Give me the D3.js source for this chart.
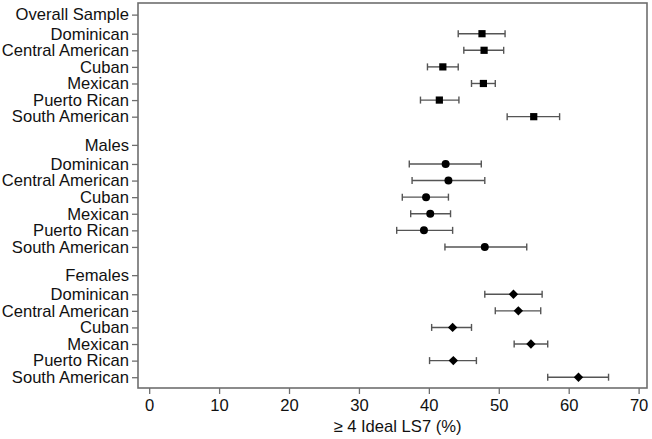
<!DOCTYPE html>
<html>
<head>
<meta charset="utf-8">
<script src="https://cdn.jsdelivr.net/npm/d3@7"></script>
<style>
  body { margin: 0; background: #fff; }
  svg { font-family: "Liberation Sans", Arial, sans-serif; }
</style>
</head>
<body>
<svg id="chart"></svg>
<script>
const groups = ['Overall Sample', 'Males', 'Females'];
const origins = ['Dominican', 'Central American', 'Cuban', 'Mexican', 'Puerto Rican', 'South American'];
const markers = ['square', 'circle', 'diamond'];

// point estimate, lower and upper 95% CI, per group
const overallEst = [47.6, 47.9, 42.0, 47.8, 41.5, 55.0];
const overallLo  = [44.2, 45.0, 39.8, 46.1, 38.8, 51.2];
const overallHi  = [50.9, 50.7, 44.2, 49.5, 44.3, 58.7];

const malesEst = [42.4, 42.8, 39.6, 40.2, 39.3, 48.0];
const malesLo  = [37.2, 37.6, 36.2, 37.4, 35.4, 42.3];
const malesHi  = [47.5, 48.0, 42.8, 43.1, 43.4, 54.0];

const femalesEst = [52.1, 52.8, 43.4, 54.6, 43.5, 61.4];
const femalesLo  = [48.0, 49.5, 40.4, 52.2, 40.1, 57.0];
const femalesHi  = [56.2, 56.0, 46.1, 57.0, 46.8, 65.7];

const xTicks = [0, 10, 20, 30, 40, 50, 60, 70];
const xTitle = '\u2265 4 Ideal LS7 (%)';

const width = 652, height = 439;
const margin = { top: 3, right: 5, bottom: 51, left: 138 };
const fontSize = '16.6px';

const svg = d3.select('#chart').attr('width', width).attr('height', height);

const estimates = [overallEst, malesEst, femalesEst];
const lows = [overallLo, malesLo, femalesLo];
const highs = [overallHi, malesHi, femalesHi];

// slot layout: header, then six rows; headers sit a bit apart
const headerGap = 1.15, groupGap = 1.7;
const rows = [];
const labels = [];
let slot = 0;
groups.forEach((g, gi) => {
    labels.push({ slot: slot, text: g });
    origins.forEach((o, oi) => {
        const s = slot + headerGap + oi;
        labels.push({ slot: s, text: o });
        rows.push({
            slot: s,
            group: gi,
            est: estimates[gi][oi],
            lo: lows[gi][oi],
            hi: highs[gi][oi],
        });
    });
    slot += headerGap + origins.length - 1 + groupGap;
});

const x = d3.scaleLinear()
    .domain([-1.6, 71.2])
    .range([margin.left, width - margin.right]);
const y = d3.scaleLinear()
    .domain([-0.7, 22.5])
    .range([margin.top, height - margin.bottom]);

const frameColor = '#6e6e6e';

// axes
const yAxis = svg.append('g')
    .attr('transform', `translate(${margin.left},0)`)
    .call(d3.axisLeft(y)
        .tickValues(labels.map(d => d.slot))
        .tickFormat((d, i) => labels[i].text)
        .tickSize(6)
        .tickPadding(3));

const xAxis = svg.append('g')
    .attr('transform', `translate(0,${height - margin.bottom})`)
    .call(d3.axisBottom(x)
        .tickValues(xTicks)
        .tickSize(6)
        .tickPadding(5));

[xAxis, yAxis].forEach(a => {
    a.select('.domain').remove();
    a.selectAll('.tick line').attr('stroke', frameColor).attr('stroke-width', 1.3);
    a.selectAll('.tick text')
        .attr('fill', '#111')
        .style('font-size', fontSize);
});

// frame
svg.append('rect')
    .attr('x', margin.left)
    .attr('y', margin.top)
    .attr('width', width - margin.right - margin.left)
    .attr('height', height - margin.bottom - margin.top)
    .attr('fill', 'none')
    .attr('stroke', frameColor)
    .attr('stroke-width', 1.6);

svg.append('text')
    .attr('x', (margin.left + width - margin.right) / 2 + 5)
    .attr('y', 432)
    .attr('text-anchor', 'middle')
    .attr('fill', '#111')
    .style('font-size', fontSize)
    .text(xTitle);

// error bars
const barColor = '#555';
const cap = 3.5;
const bars = svg.append('g').attr('stroke', barColor).attr('stroke-width', 1.4);

bars.selectAll('line.ci')
    .data(rows)
    .join('line')
    .attr('class', 'ci')
    .attr('x1', d => x(d.lo))
    .attr('x2', d => x(d.hi))
    .attr('y1', d => y(d.slot))
    .attr('y2', d => y(d.slot));

bars.selectAll('line.lo')
    .data(rows)
    .join('line')
    .attr('class', 'lo')
    .attr('x1', d => x(d.lo))
    .attr('x2', d => x(d.lo))
    .attr('y1', d => y(d.slot) - cap)
    .attr('y2', d => y(d.slot) + cap);

bars.selectAll('line.hi')
    .data(rows)
    .join('line')
    .attr('class', 'hi')
    .attr('x1', d => x(d.hi))
    .attr('x2', d => x(d.hi))
    .attr('y1', d => y(d.slot) - cap)
    .attr('y2', d => y(d.slot) + cap);

// markers
const symbolTypes = {
    square: d3.symbol().type(d3.symbolSquare).size(52),
    circle: d3.symbol().type(d3.symbolCircle).size(50),
    diamond: d3.symbol().type(d3.symbolSquare).size(44),
};

svg.append('g')
    .selectAll('path')
    .data(rows)
    .join('path')
    .attr('d', d => symbolTypes[markers[d.group]]())
    .attr('transform', d => {
        const rot = markers[d.group] === 'diamond' ? ' rotate(45)' : '';
        return `translate(${x(d.est)},${y(d.slot)})${rot}`;
    })
    .attr('fill', '#000');
</script>
</body>
</html>
